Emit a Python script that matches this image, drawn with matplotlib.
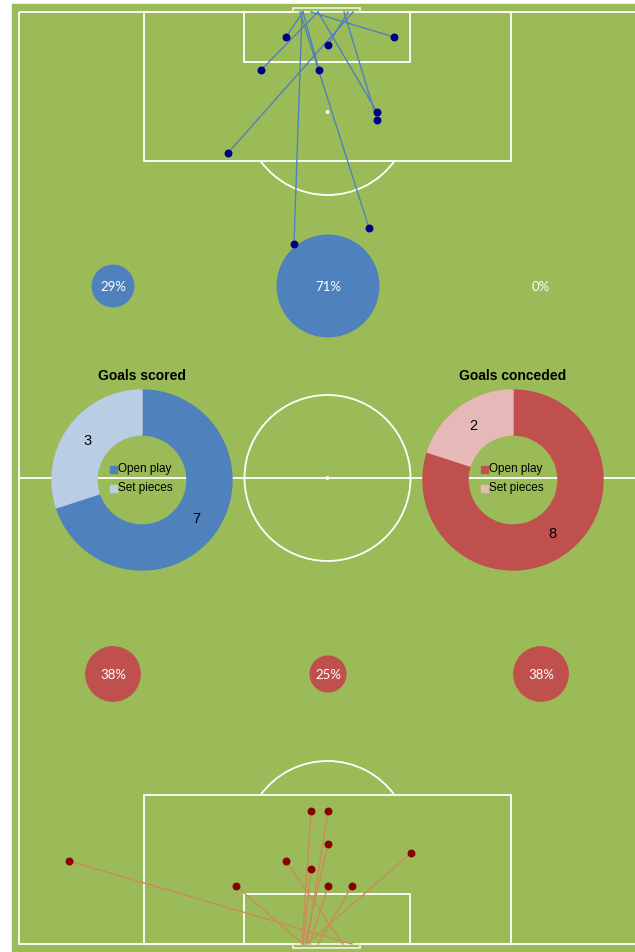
import numpy as np
import matplotlib.pyplot as plt
from matplotlib.patches import Rectangle, Circle, Wedge, Arc

# ---------------------------------------------
# data (pitch drawn in pixel-like units, y grows downwards)
# ---------------------------------------------

# shots leading to goals scored (attacking the top goal)
scored_x = [286, 394, 328, 261, 319, 377, 377, 228, 369, 294]
scored_y = [37, 37, 45, 70, 70, 112, 120, 153, 228, 244]
scored_end_x = [303, 311, 348, 318, 303, 318, 344, 353, 300, 302]

# shots leading to goals conceded (bottom goal)
conceded_x = [311, 328, 328, 286, 311, 236, 328, 352, 411, 69]
conceded_y = [811, 811, 844, 861, 869, 886, 886, 886, 853, 861]
conceded_end_x = [302, 307, 305, 343, 303, 303, 310, 318, 307, 352]

# share of goals by channel (left / centre / right)
zone_x = [113, 328, 541]
scored_share = [29, 71, 0]
conceded_share = [38, 25, 38]

# goal type split
goal_types = ["Open play", "Set pieces"]
scored_types = [7, 3]
conceded_types = [8, 2]

# ---------------------------------------------
# colours
# ---------------------------------------------
grass = "#9BBB59"
blue = "#4F81BD"
light_blue = "#B9CDE5"
red = "#C0504D"
light_red = "#E6B9B8"

fig = plt.figure(figsize=(6.35, 9.52), dpi=100)
ax = fig.add_axes([0, 0, 1, 1])
ax.set_xlim(0, 635)
ax.set_ylim(952, 0)
ax.set_aspect("equal")
ax.axis("off")

# grass
ax.add_patch(Rectangle((12, 4), 640, 960, color=grass, zorder=0))

# ---------------------------------------------
# pitch markings
# ---------------------------------------------
lc = "white"
lw = 1.3
left, right, top, bottom = 19, 637, 12, 944
mid_x, mid_y = (left + right) / 2 - 0.5, (top + bottom) / 2

ax.add_patch(Rectangle((left, top), right - left, bottom - top, fill=False, ec=lc, lw=lw))
ax.plot([left, right], [mid_y, mid_y], color=lc, lw=lw)
ax.add_patch(Circle((mid_x, mid_y), 83, fill=False, ec=lc, lw=lw))
ax.add_patch(Circle((mid_x, mid_y), 1.2, color=lc))

for goal_y, sign in [(top, 1), (bottom, -1)]:
    box_y = goal_y if sign == 1 else goal_y - 149
    ax.add_patch(Rectangle((144, box_y), 367, 149, fill=False, ec=lc, lw=lw))
    six_y = goal_y if sign == 1 else goal_y - 50
    ax.add_patch(Rectangle((244, six_y), 166, 50, fill=False, ec=lc, lw=lw))
    net_y = goal_y - 4 if sign == 1 else goal_y
    ax.add_patch(Rectangle((293, net_y), 67, 4, fill=False, ec="#E8EFD8", lw=lw))
    spot_y = goal_y + sign * 100
    ax.add_patch(Circle((mid_x, spot_y), 1.2, color=lc))
    # penalty arc outside the box
    if sign == 1:
        ax.add_patch(Arc((mid_x, spot_y), 166, 166, theta1=36, theta2=144, ec=lc, lw=lw))
    else:
        ax.add_patch(Arc((mid_x, spot_y), 166, 166, theta1=216, theta2=324, ec=lc, lw=lw))

# ---------------------------------------------
# shot lines and locations
# ---------------------------------------------
for x, y, ex in zip(scored_x, scored_y, scored_end_x):
    ax.plot([x, ex], [y, top], color=blue, lw=1.0, zorder=3)
ax.scatter(scored_x, scored_y, s=22, color="#000080", zorder=4)

for x, y, ex in zip(conceded_x, conceded_y, conceded_end_x):
    ax.plot([x, ex], [y, bottom], color="#CC8A5C", lw=1.0, zorder=3)
ax.scatter(conceded_x, conceded_y, s=22, color="#8B0000", zorder=4)

# ---------------------------------------------
# channel bubbles (radius proportional to share)
# ---------------------------------------------
k = 0.715
for x, v in zip(zone_x, scored_share):
    if v > 0:
        ax.add_patch(Circle((x, 286), k * v, color=blue, zorder=2))
    ax.text(x, 287, f"{v}%", color="white", fontsize=9.5, family="Lato",
            ha="center", va="center", zorder=5)

for x, v in zip(zone_x, conceded_share):
    ax.add_patch(Circle((x, 674), k * v, color=red, zorder=2))
    ax.text(x, 675, f"{v}%", color="white", fontsize=9.5, family="Lato",
            ha="center", va="center", zorder=5)


# ---------------------------------------------
# goal type donuts
# ---------------------------------------------
def donut(cx, cy, values, colors, title):
    r_out, r_in = 90, 45
    total = sum(values)
    start = 270
    for v, c in zip(values, colors):
        span = 360 * v / total
        ax.add_patch(Wedge((cx, cy), r_out, start, start + span, width=r_out - r_in,
                           color=c, zorder=2))
        mid = np.radians(start + span / 2)
        ax.text(cx + 67 * np.cos(mid), cy + 67 * np.sin(mid), str(v),
                fontsize=10.5, family="Liberation Sans", ha="center", va="center", zorder=5)
        start += span
    ax.text(cx, cy - 104, title, fontsize=10, fontweight="bold",
            family="Liberation Sans", ha="center", va="center")
    for i, (name, c) in enumerate(zip(goal_types, colors)):
        ly = cy - 11 + 19 * i
        ax.add_patch(Rectangle((cx - 32, ly - 3.5), 7, 7, color=c, zorder=5))
        ax.text(cx - 24, ly, name, fontsize=8.5, family="Liberation Sans",
                ha="left", va="center", zorder=5)


donut(142, 480, scored_types, [blue, light_blue], "Goals scored")
donut(513, 480, conceded_types, [red, light_red], "Goals conceded")

plt.savefig("out.png", dpi=100, facecolor="white")
